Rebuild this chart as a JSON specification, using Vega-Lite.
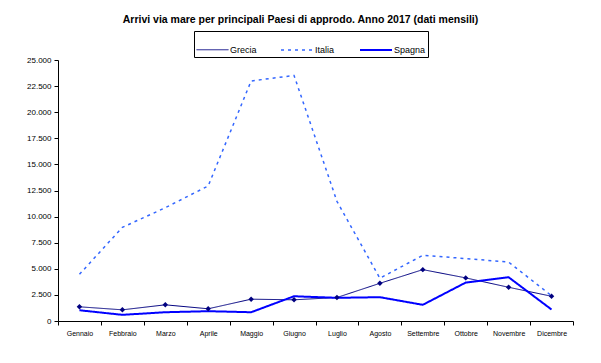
{
  "$schema": "https://vega.github.io/schema/vega-lite/v6.json",
  "autosize": {"type": "none"},
  "width": 515,
  "height": 261,
  "padding": {"left": 58, "top": 60, "right": 28, "bottom": 42},
  "background": "white",
  "title": {
    "text": "Arrivi via mare per principali Paesi di approdo. Anno 2017 (dati mensili)",
    "font": "Liberation Sans",
    "fontSize": 10.5,
    "fontWeight": "bold",
    "color": "black",
    "anchor": "middle",
    "dx": -15,
    "offset": 5
  },
  "config": {
    "view": {"stroke": null},
    "font": "Liberation Sans"
  },
  "data": {
    "values": [
      {"mese": "Gennaio", "paese": "Grecia", "arrivi": 1360},
      {"mese": "Febbraio", "paese": "Grecia", "arrivi": 1070},
      {"mese": "Marzo", "paese": "Grecia", "arrivi": 1550},
      {"mese": "Aprile", "paese": "Grecia", "arrivi": 1170},
      {"mese": "Maggio", "paese": "Grecia", "arrivi": 2090},
      {"mese": "Giugno", "paese": "Grecia", "arrivi": 2030},
      {"mese": "Luglio", "paese": "Grecia", "arrivi": 2250},
      {"mese": "Agosto", "paese": "Grecia", "arrivi": 3610},
      {"mese": "Settembre", "paese": "Grecia", "arrivi": 4920},
      {"mese": "Ottobre", "paese": "Grecia", "arrivi": 4130},
      {"mese": "Novembre", "paese": "Grecia", "arrivi": 3230},
      {"mese": "Dicembre", "paese": "Grecia", "arrivi": 2370},
      {"mese": "Gennaio", "paese": "Italia", "arrivi": 4470},
      {"mese": "Febbraio", "paese": "Italia", "arrivi": 8970},
      {"mese": "Marzo", "paese": "Italia", "arrivi": 10850},
      {"mese": "Aprile", "paese": "Italia", "arrivi": 12940},
      {"mese": "Maggio", "paese": "Italia", "arrivi": 22990},
      {"mese": "Giugno", "paese": "Italia", "arrivi": 23520},
      {"mese": "Luglio", "paese": "Italia", "arrivi": 11460},
      {"mese": "Agosto", "paese": "Italia", "arrivi": 4100},
      {"mese": "Settembre", "paese": "Italia", "arrivi": 6290},
      {"mese": "Ottobre", "paese": "Italia", "arrivi": 5980},
      {"mese": "Novembre", "paese": "Italia", "arrivi": 5640},
      {"mese": "Dicembre", "paese": "Italia", "arrivi": 2420},
      {"mese": "Gennaio", "paese": "Spagna", "arrivi": 1030},
      {"mese": "Febbraio", "paese": "Spagna", "arrivi": 590},
      {"mese": "Marzo", "paese": "Spagna", "arrivi": 840},
      {"mese": "Aprile", "paese": "Spagna", "arrivi": 940},
      {"mese": "Maggio", "paese": "Spagna", "arrivi": 840},
      {"mese": "Giugno", "paese": "Spagna", "arrivi": 2370},
      {"mese": "Luglio", "paese": "Spagna", "arrivi": 2220},
      {"mese": "Agosto", "paese": "Spagna", "arrivi": 2280},
      {"mese": "Settembre", "paese": "Spagna", "arrivi": 1550},
      {"mese": "Ottobre", "paese": "Spagna", "arrivi": 3680},
      {"mese": "Novembre", "paese": "Spagna", "arrivi": 4190},
      {"mese": "Dicembre", "paese": "Spagna", "arrivi": 1100}
    ]
  },
  "encoding": {
    "x": {
      "field": "mese",
      "type": "ordinal",
      "sort": null,
      "scale": {"type": "band", "paddingInner": 0, "paddingOuter": 0},
      "axis": {
        "title": null,
        "labelAngle": 0,
        "labelFont": "Liberation Sans",
        "labelFontSize": 7,
        "labelColor": "black",
        "tickBand": "extent",
        "tickSize": 4,
        "tickColor": "black",
        "domainColor": "black",
        "labelPadding": 4
      }
    },
    "y": {
      "field": "arrivi",
      "type": "quantitative",
      "scale": {"domain": [0, 25000], "nice": false},
      "axis": {
        "title": null,
        "values": [0, 2500, 5000, 7500, 10000, 12500, 15000, 17500, 20000, 22500, 25000],
        "labelExpr": "replace(format(datum.value, ',d'), ',', '.')",
        "labelFont": "Liberation Sans",
        "labelFontSize": 8,
        "labelColor": "black",
        "grid": false,
        "tickSize": 4,
        "tickColor": "black",
        "domainColor": "black",
        "labelPadding": 3
      }
    }
  },
  "layer": [
    {
      "mark": {"type": "line", "strokeJoin": "miter"},
      "encoding": {
        "color": {
          "field": "paese",
          "type": "nominal",
          "scale": {"domain": ["Grecia", "Italia", "Spagna"], "range": ["#000080", "#3366FF", "#0000FF"]},
          "legend": {
            "title": null,
            "orient": "none",
            "legendX": 136,
            "legendY": -29,
            "direction": "horizontal",
            "symbolType": "stroke",
            "symbolSize": 1024,
            "labelFont": "Liberation Sans",
            "labelFontSize": 9,
            "labelColor": "black",
            "labelOffset": 1,
            "columnPadding": 21,
            "strokeColor": "black",
            "padding": 2,
            "fillColor": "white"
          }
        },
        "strokeDash": {
          "field": "paese",
          "type": "nominal",
          "scale": {"domain": ["Grecia", "Italia", "Spagna"], "range": [[1, 0], [3, 4], [1, 0]]},
          "legend": null
        },
        "strokeWidth": {
          "field": "paese",
          "type": "nominal",
          "scale": {"domain": ["Grecia", "Italia", "Spagna"], "range": [1, 2, 2.5]},
          "legend": null
        }
      }
    },
    {
      "transform": [{"filter": "datum.paese === 'Grecia'"}],
      "mark": {"type": "point", "shape": "diamond", "filled": true, "size": 30, "color": "#000080", "opacity": 1}
    }
  ]
}
